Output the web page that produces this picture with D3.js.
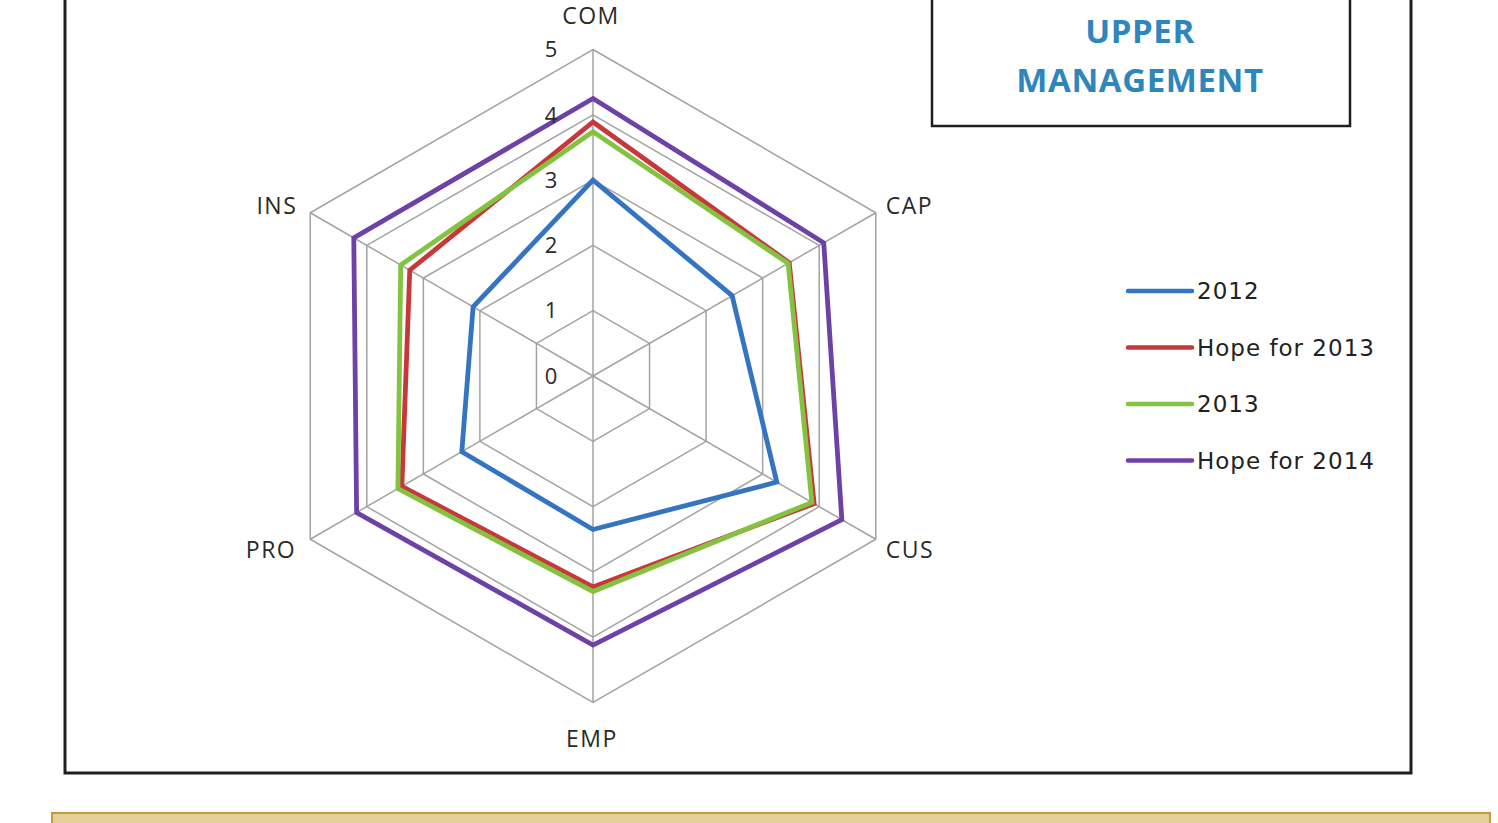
<!DOCTYPE html>
<html>
<head>
<meta charset="utf-8">
<script src="https://cdn.jsdelivr.net/npm/d3@7"></script>
<style>
  html, body { margin: 0; padding: 0; background: #fff; }
  svg { display: block; }
</style>
</head>
<body>
<svg id="svg" width="1498" height="823"></svg>
<script>
// axes of the radar, clockwise from the top
const axes = ["COM", "CAP", "CUS", "EMP", "PRO", "INS"];
const ticks = [0, 1, 2, 3, 4, 5];

const seriesNames = ["2012", "Hope for 2013", "2013", "Hope for 2014"];
const seriesColors = ["#3474c3", "#c8383a", "#84c341", "#6d41a6"];

const v2012 = [3.0, 2.46, 3.25, 2.35, 2.32, 2.12];
const hope2013 = [3.89, 3.47, 3.91, 3.23, 3.38, 3.24];
const v2013 = [3.74, 3.45, 3.87, 3.30, 3.45, 3.40];
const hope2014 = [4.25, 4.08, 4.40, 4.12, 4.18, 4.23];

const seriesValues = [v2012, hope2013, v2013, hope2014];

const svg = d3.select("#svg");

// outer frame
svg.append("rect")
  .attr("x", 65).attr("y", -10)
  .attr("width", 1346).attr("height", 783)
  .attr("fill", "#fff")
  .attr("stroke", "#1e1e1e")
  .attr("stroke-width", 3);

// beige box at the bottom
svg.append("rect")
  .attr("x", 52).attr("y", 813)
  .attr("width", 1438).attr("height", 30)
  .attr("fill", "#e3d197")
  .attr("stroke", "#c49a3c")
  .attr("stroke-width", 2);

// title box
svg.append("rect")
  .attr("x", 932).attr("y", -10)
  .attr("width", 418).attr("height", 136)
  .attr("fill", "#fff")
  .attr("stroke", "#1e1e1e")
  .attr("stroke-width", 2.5);

const title = svg.append("text")
  .attr("x", 1140)
  .attr("text-anchor", "middle")
  .style("font-family", "'Open Sans', sans-serif")
  .style("font-weight", "bold")
  .style("font-size", "33px")
  .style("letter-spacing", "0.6px")
  .attr("fill", "#2f86bd");
title.append("tspan").attr("x", 1140).attr("y", 43).text("UPPER");
title.append("tspan").attr("x", 1140).attr("y", 92).text("MANAGEMENT");

// radar
const cx = 593, cy = 376;
const r = d3.scaleLinear().domain([0, 5]).range([0, 326.5]);
const angle = d3.scalePoint().domain(axes).range([0, 2 * Math.PI * 5 / 6]);

const g = svg.append("g").attr("transform", `translate(${cx},${cy})`);

const ring = d3.lineRadial()
  .angle(d => angle(d.axis))
  .radius(d => r(d.value))
  .curve(d3.curveLinearClosed);

// grid rings
g.selectAll(".ring")
  .data(ticks.slice(1))
  .enter().append("path")
  .attr("class", "ring")
  .attr("d", t => ring(axes.map(a => ({ axis: a, value: t }))))
  .attr("fill", "none")
  .attr("stroke", "#a3a3a3")
  .attr("stroke-width", 1.5);

// spokes
const pt = (a, v) => [Math.sin(angle(a)) * r(v), -Math.cos(angle(a)) * r(v)];
g.selectAll(".spoke")
  .data(axes)
  .enter().append("line")
  .attr("class", "spoke")
  .attr("x1", 0).attr("y1", 0)
  .attr("x2", a => pt(a, 5)[0])
  .attr("y2", a => pt(a, 5)[1])
  .attr("stroke", "#a3a3a3")
  .attr("stroke-width", 1.5);

// series
g.selectAll(".series")
  .data(seriesValues)
  .enter().append("path")
  .attr("class", "series")
  .attr("d", vals => ring(vals.map((v, i) => ({ axis: axes[i], value: v }))))
  .attr("fill", "none")
  .attr("stroke", (d, i) => seriesColors[i])
  .attr("stroke-width", 4.8)
  .attr("stroke-linejoin", "miter");

// tick labels
g.selectAll(".tick")
  .data(ticks)
  .enter().append("text")
  .attr("class", "tick")
  .attr("x", -42)
  .attr("y", t => -r(t))
  .attr("dy", "0.35em")
  .attr("text-anchor", "middle")
  .style("font-family", "'Open Sans', sans-serif")
  .style("font-size", "22px")
  .attr("fill", "#2a2a2a")
  .text(t => t);

// axis labels
const labelPos = {
  COM: { dx: -2, dy: -34, anchor: "middle" },
  CAP: { dx: 10, dy: -7, anchor: "start" },
  CUS: { dx: 10, dy: 11, anchor: "start" },
  EMP: { dx: -1, dy: 36, anchor: "middle" },
  PRO: { dx: -14, dy: 11, anchor: "end" },
  INS: { dx: -13, dy: -7, anchor: "end" }
};
g.selectAll(".axis-label")
  .data(axes)
  .enter().append("text")
  .attr("class", "axis-label")
  .attr("x", a => pt(a, 5)[0] + labelPos[a].dx)
  .attr("y", a => pt(a, 5)[1] + labelPos[a].dy)
  .attr("dy", "0.35em")
  .attr("text-anchor", a => labelPos[a].anchor)
  .style("font-family", "'Open Sans', sans-serif")
  .style("font-size", "23px")
  .style("letter-spacing", "1.5px")
  .attr("fill", "#2a2a2a")
  .text(a => a);

// legend
const legend = svg.append("g").attr("transform", "translate(1128,291)");
const item = legend.selectAll(".item")
  .data(seriesNames)
  .enter().append("g")
  .attr("class", "item")
  .attr("transform", (d, i) => `translate(0,${i * 56.5})`);

item.append("line")
  .attr("x1", 0).attr("x2", 64)
  .attr("y1", 0).attr("y2", 0)
  .attr("stroke", (d, i) => seriesColors[i])
  .attr("stroke-width", 4.5)
  .attr("stroke-linecap", "round");

item.append("text")
  .attr("x", 69)
  .attr("y", 0)
  .attr("dy", "0.36em")
  .style("font-family", "'DejaVu Sans', sans-serif")
  .style("font-size", "23px")
  .style("letter-spacing", "1px")
  .attr("fill", "#222")
  .text(d => d);
</script>
</body>
</html>
